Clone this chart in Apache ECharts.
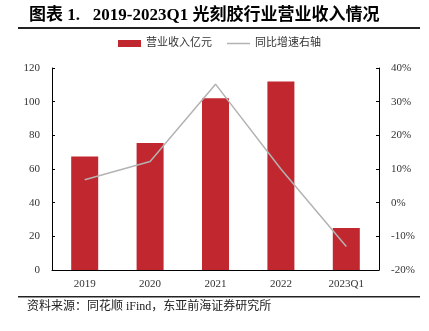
<!DOCTYPE html>
<html>
<head>
<meta charset="utf-8">
<script src="https://cdn.jsdelivr.net/npm/echarts@6/dist/echarts.min.js"></script>
<style>
html,body{margin:0;padding:0;background:#fff;}
#main{width:429px;height:331px;}
</style>
</head>
<body>
<div id="main"></div>
<script>
const categories = ['2019', '2020', '2021', '2022', '2023Q1'];
const revenue = [67.5, 75.5, 102, 112, 25];
const growth = [6.8, 12.2, 35.2, 10, -13];
const leftTicks = [0, 120, 20];
const rightTicks = [-20, 40, 10];

const serif = "'Liberation Serif','Noto Sans CJK SC',serif";
const chart = echarts.init(document.getElementById('main'), null, {renderer: 'canvas'});
chart.setOption({
  animation: false,
  backgroundColor: '#fff',
  grid: {left: 52, right: 50, top: 68, bottom: 61},
  legend: [
    {
      left: 118, top: 38, padding: 0,
      itemWidth: 23, itemHeight: 7,
      textStyle: {fontFamily: serif, fontSize: 11, color: '#333'},
      data: [{name: '营业收入亿元', icon: 'rect'}]
    },
    {
      left: 227, top: 38, padding: 0,
      itemWidth: 23, itemHeight: 1.5,
      textStyle: {fontFamily: serif, fontSize: 11, color: '#333'},
      data: [{name: '同比增速右轴', icon: 'rect'}]
    }
  ],
  xAxis: {
    type: 'category',
    data: categories,
    axisLine: {lineStyle: {color: '#000', width: 1}},
    axisTick: {show: false},
    axisLabel: {fontFamily: serif, fontSize: 11, color: '#333', margin: 9}
  },
  yAxis: [
    {
      type: 'value', min: leftTicks[0], max: leftTicks[1], interval: leftTicks[2],
      axisLine: {show: true, lineStyle: {color: '#000'}},
      axisTick: {show: true, inside: true, length: 3, lineStyle: {color: '#000'}},
      splitLine: {show: false},
      axisLabel: {fontFamily: serif, fontSize: 11, color: '#333', margin: 12}
    },
    {
      type: 'value', min: rightTicks[0], max: rightTicks[1], interval: rightTicks[2],
      axisLine: {show: true, lineStyle: {color: '#000'}},
      axisTick: {show: true, inside: true, length: 3, lineStyle: {color: '#000'}},
      splitLine: {show: false},
      axisLabel: {fontFamily: serif, fontSize: 11, color: '#333', margin: 12, formatter: '{value}%'}
    }
  ],
  series: [
    {
      name: '营业收入亿元', type: 'bar', data: revenue, barWidth: 27,
      itemStyle: {color: '#C1272F'}
    },
    {
      name: '同比增速右轴', type: 'line', yAxisIndex: 1, data: growth,
      symbol: 'none', lineStyle: {color: '#B3B3B3', width: 1.5},
      itemStyle: {color: '#B3B3B3'}
    }
  ],
  graphic: [
    {type: 'text', left: 29, top: 7, style: {text: '图表 1.   2019-2023Q1 光刻胶行业营业收入情况', font: "bold 17px 'Liberation Serif','Noto Sans CJK SC',serif", fill: '#000'}},
    {type: 'rect', shape: {x: 18, y: 27, width: 402, height: 2}, style: {fill: '#222'}},
    {type: 'rect', shape: {x: 18, y: 296, width: 402, height: 1.5}, style: {fill: '#222'}},
    {type: 'text', left: 27, top: 301, style: {text: '资料来源：同花顺 iFind，东亚前海证券研究所', font: "12px 'Liberation Serif','Noto Sans CJK SC',serif", fill: '#222'}}
  ]
});
</script>
</body>
</html>
